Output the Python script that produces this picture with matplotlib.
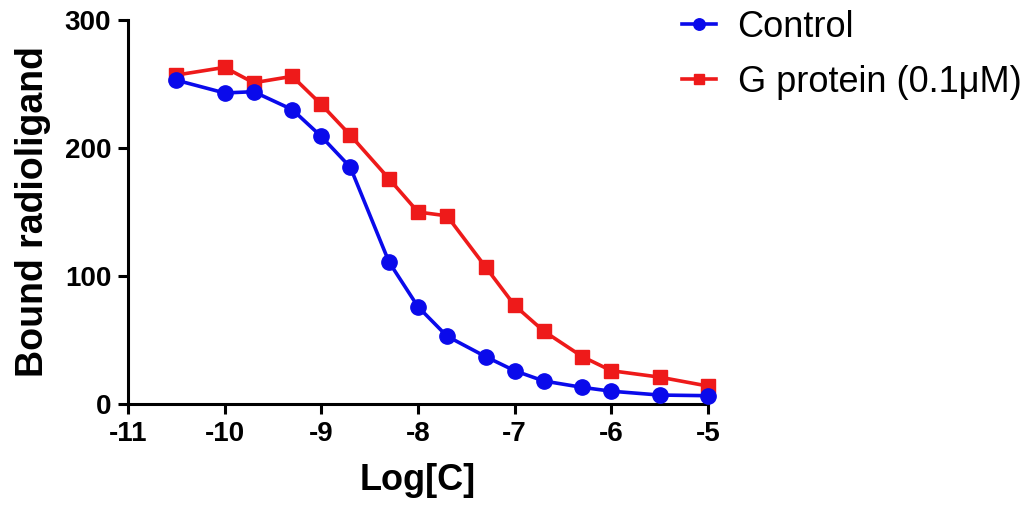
import matplotlib
matplotlib.use("Agg")
import matplotlib.pyplot as plt

plt.rcParams['font.family'] = ['Liberation Sans', 'DejaVu Sans']
plt.rcParams['axes.unicode_minus'] = False

# Log concentrations
log_c = [-10.5, -10.0, -9.7, -9.3, -9.0, -8.7, -8.3, -8.0,
         -7.7, -7.3, -7.0, -6.7, -6.3, -6.0, -5.5, -5.0]

# Bound radioligand
control = [253, 243, 244, 230, 209, 185, 111, 76,
           53, 37, 26, 18, 13, 10, 7, 6.5]
g_protein = [257, 263, 251, 256, 234, 210, 176, 150,
             147, 107, 77, 57, 37, 26, 21, 14]

series_names = ['Control', 'G protein (0.1\u03bcM)']
x_ticks = [-11, -10, -9, -8, -7, -6, -5]
y_ticks = [0, 100, 200, 300]

blue = '#0a0aeb'
red = '#ee1a1a'

fig = plt.figure(figsize=(10.27, 5.08), dpi=100)
ax = fig.add_axes([0.1246, 0.2047, 0.5648, 0.7559])

ax.plot(log_c, control, color=blue, lw=2.6, marker='o', ms=11,
        label=series_names[0], clip_on=False, zorder=3)
ax.plot(log_c, g_protein, color=red, lw=2.6, marker='s', ms=10.5,
        label=series_names[1], clip_on=False, zorder=2)

ax.set_xlim(-11, -5)
ax.set_ylim(0, 300)
ax.set_xticks(x_ticks)
ax.set_yticks(y_ticks)

for side in ['top', 'right']:
    ax.spines[side].set_visible(False)
for side in ['left', 'bottom']:
    ax.spines[side].set_linewidth(2.2)

ax.tick_params(direction='out', length=7, width=2.2, pad=5, labelsize=20)
for lab in ax.get_xticklabels() + ax.get_yticklabels():
    lab.set_fontweight('bold')

ax.set_xlabel('Log[C]', fontsize=26, fontweight='bold', labelpad=12)
ax.set_ylabel('Bound radioligand', fontsize=27, fontweight='bold', labelpad=10)

# legend sits outside the axes, top right
fig.legend(loc='upper left', bbox_to_anchor=(0.632, 1.045), frameon=False,
           fontsize=26, handlelength=0.95, handletextpad=0.6,
           labelspacing=0.55, markerscale=0.75)

fig.savefig('out.png', dpi=100)
